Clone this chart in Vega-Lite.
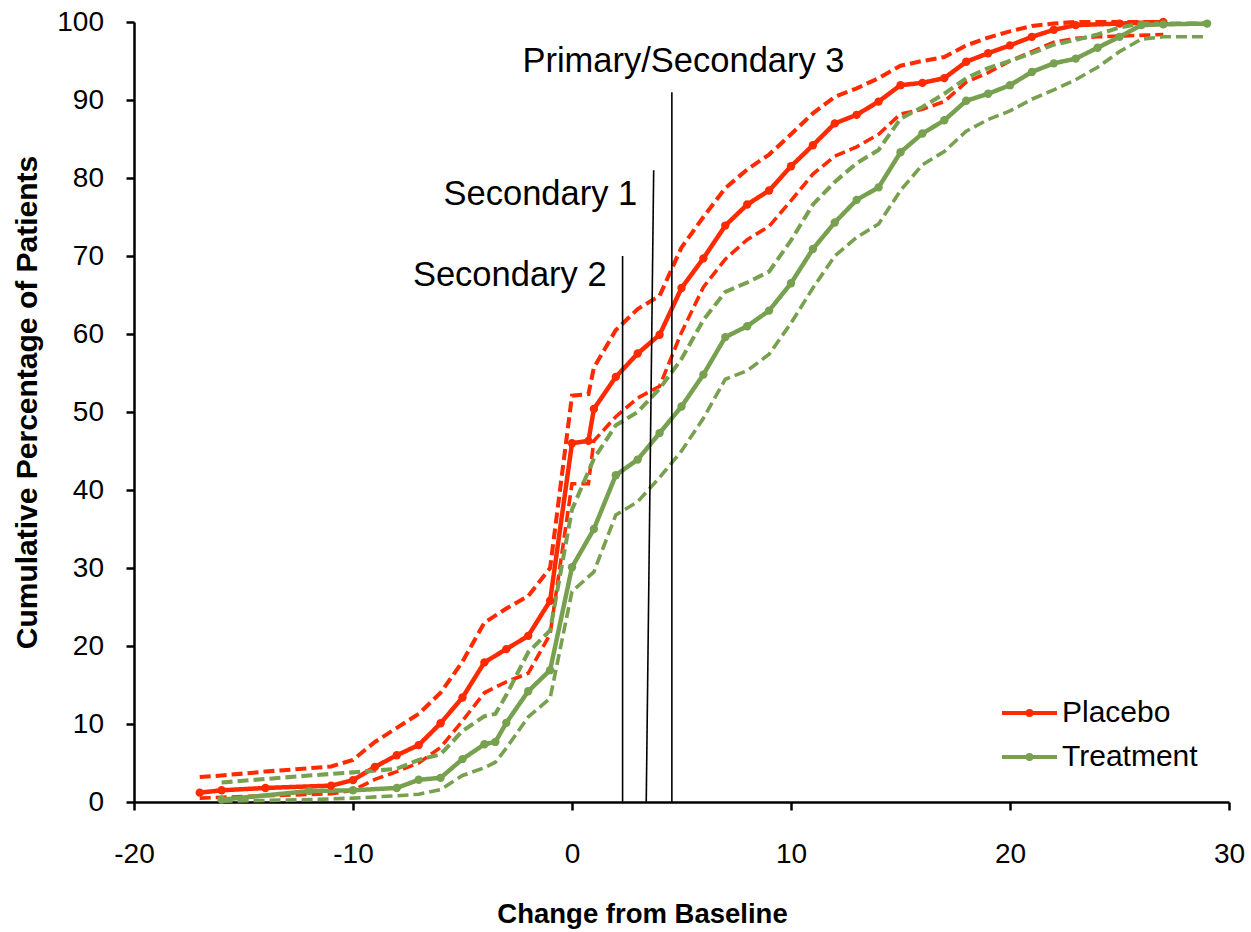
{
  "$schema": "https://vega.github.io/schema/vega-lite/v6.json",
  "width": 1095,
  "height": 780,
  "autosize": {"type": "none"},
  "padding": {"left": 134, "top": 22, "right": 22, "bottom": 130},
  "background": "white",
  "config": {
    "view": {"stroke": null},
    "font": "Liberation Sans",
    "axis": {
      "grid": false,
      "domainColor": "black",
      "domainWidth": 2.5,
      "tickColor": "black",
      "tickWidth": 2.5,
      "tickSize": 8,
      "labelColor": "black",
      "labelFontSize": 28,
      "labelFont": "Liberation Sans",
      "titleFont": "Liberation Sans",
      "titleColor": "black",
      "titleFontWeight": "bold",
      "labelFlush": false,
      "labelOverlap": false
    }
  },
  "datasets": {
    "curves": [
      {"group":"Placebo","band":"estimate","change":-17,"pct":1.2},
      {"group":"Placebo","band":"estimate","change":-16,"pct":1.5},
      {"group":"Placebo","band":"estimate","change":-14,"pct":1.8},
      {"group":"Placebo","band":"estimate","change":-11,"pct":2.1},
      {"group":"Placebo","band":"estimate","change":-10,"pct":2.8},
      {"group":"Placebo","band":"estimate","change":-9,"pct":4.5},
      {"group":"Placebo","band":"estimate","change":-8,"pct":6.0},
      {"group":"Placebo","band":"estimate","change":-7,"pct":7.3},
      {"group":"Placebo","band":"estimate","change":-6,"pct":10.1},
      {"group":"Placebo","band":"estimate","change":-5,"pct":13.4},
      {"group":"Placebo","band":"estimate","change":-4,"pct":17.9},
      {"group":"Placebo","band":"estimate","change":-3,"pct":19.6},
      {"group":"Placebo","band":"estimate","change":-2,"pct":21.3},
      {"group":"Placebo","band":"estimate","change":-1,"pct":25.8},
      {"group":"Placebo","band":"estimate","change":0,"pct":46.0},
      {"group":"Placebo","band":"estimate","change":0.75,"pct":46.3},
      {"group":"Placebo","band":"estimate","change":1,"pct":50.4},
      {"group":"Placebo","band":"estimate","change":2,"pct":54.5},
      {"group":"Placebo","band":"estimate","change":3,"pct":57.5},
      {"group":"Placebo","band":"estimate","change":4,"pct":59.9},
      {"group":"Placebo","band":"estimate","change":5,"pct":65.9},
      {"group":"Placebo","band":"estimate","change":6,"pct":69.7},
      {"group":"Placebo","band":"estimate","change":7,"pct":73.9},
      {"group":"Placebo","band":"estimate","change":8,"pct":76.6},
      {"group":"Placebo","band":"estimate","change":9,"pct":78.4},
      {"group":"Placebo","band":"estimate","change":10,"pct":81.5},
      {"group":"Placebo","band":"estimate","change":11,"pct":84.2},
      {"group":"Placebo","band":"estimate","change":12,"pct":87.0},
      {"group":"Placebo","band":"estimate","change":13,"pct":88.1},
      {"group":"Placebo","band":"estimate","change":14,"pct":89.8},
      {"group":"Placebo","band":"estimate","change":15,"pct":91.9},
      {"group":"Placebo","band":"estimate","change":16,"pct":92.2},
      {"group":"Placebo","band":"estimate","change":17,"pct":92.8},
      {"group":"Placebo","band":"estimate","change":18,"pct":94.9},
      {"group":"Placebo","band":"estimate","change":19,"pct":96.0},
      {"group":"Placebo","band":"estimate","change":20,"pct":97.0},
      {"group":"Placebo","band":"estimate","change":21,"pct":98.1},
      {"group":"Placebo","band":"estimate","change":22,"pct":99.0},
      {"group":"Placebo","band":"estimate","change":23,"pct":99.6},
      {"group":"Placebo","band":"estimate","change":25,"pct":99.8},
      {"group":"Placebo","band":"estimate","change":27,"pct":100},

      {"group":"Placebo","band":"upper","change":-17,"pct":3.2},
      {"group":"Placebo","band":"upper","change":-16,"pct":3.4},
      {"group":"Placebo","band":"upper","change":-14,"pct":3.9},
      {"group":"Placebo","band":"upper","change":-11,"pct":4.55},
      {"group":"Placebo","band":"upper","change":-10,"pct":5.4},
      {"group":"Placebo","band":"upper","change":-9,"pct":7.7},
      {"group":"Placebo","band":"upper","change":-8,"pct":9.5},
      {"group":"Placebo","band":"upper","change":-7,"pct":11.3},
      {"group":"Placebo","band":"upper","change":-6,"pct":14.0},
      {"group":"Placebo","band":"upper","change":-5,"pct":18.0},
      {"group":"Placebo","band":"upper","change":-4,"pct":23.0},
      {"group":"Placebo","band":"upper","change":-3,"pct":24.8},
      {"group":"Placebo","band":"upper","change":-2,"pct":26.4},
      {"group":"Placebo","band":"upper","change":-1,"pct":30.0},
      {"group":"Placebo","band":"upper","change":0,"pct":52.1},
      {"group":"Placebo","band":"upper","change":0.75,"pct":52.3},
      {"group":"Placebo","band":"upper","change":1,"pct":55.7},
      {"group":"Placebo","band":"upper","change":2,"pct":60.5},
      {"group":"Placebo","band":"upper","change":3,"pct":63.2},
      {"group":"Placebo","band":"upper","change":4,"pct":64.9},
      {"group":"Placebo","band":"upper","change":5,"pct":71.1},
      {"group":"Placebo","band":"upper","change":6,"pct":75.0},
      {"group":"Placebo","band":"upper","change":7,"pct":78.7},
      {"group":"Placebo","band":"upper","change":8,"pct":81.1},
      {"group":"Placebo","band":"upper","change":9,"pct":83.0},
      {"group":"Placebo","band":"upper","change":10,"pct":85.6},
      {"group":"Placebo","band":"upper","change":11,"pct":88.3},
      {"group":"Placebo","band":"upper","change":12,"pct":90.4},
      {"group":"Placebo","band":"upper","change":13,"pct":91.5},
      {"group":"Placebo","band":"upper","change":14,"pct":92.8},
      {"group":"Placebo","band":"upper","change":15,"pct":94.4},
      {"group":"Placebo","band":"upper","change":16,"pct":95.0},
      {"group":"Placebo","band":"upper","change":17,"pct":95.5},
      {"group":"Placebo","band":"upper","change":18,"pct":97.0},
      {"group":"Placebo","band":"upper","change":19,"pct":98.0},
      {"group":"Placebo","band":"upper","change":20,"pct":98.8},
      {"group":"Placebo","band":"upper","change":21,"pct":99.5},
      {"group":"Placebo","band":"upper","change":22,"pct":99.8},
      {"group":"Placebo","band":"upper","change":23,"pct":100},
      {"group":"Placebo","band":"upper","change":27,"pct":100},

      {"group":"Placebo","band":"lower","change":-17,"pct":0.5},
      {"group":"Placebo","band":"lower","change":-16,"pct":0.6},
      {"group":"Placebo","band":"lower","change":-14,"pct":0.8},
      {"group":"Placebo","band":"lower","change":-11,"pct":1.05},
      {"group":"Placebo","band":"lower","change":-10,"pct":1.5},
      {"group":"Placebo","band":"lower","change":-9,"pct":2.9},
      {"group":"Placebo","band":"lower","change":-8,"pct":3.9},
      {"group":"Placebo","band":"lower","change":-7,"pct":5.0},
      {"group":"Placebo","band":"lower","change":-6,"pct":7.0},
      {"group":"Placebo","band":"lower","change":-5,"pct":10.4},
      {"group":"Placebo","band":"lower","change":-4,"pct":14.0},
      {"group":"Placebo","band":"lower","change":-3,"pct":15.4},
      {"group":"Placebo","band":"lower","change":-2,"pct":16.5},
      {"group":"Placebo","band":"lower","change":-1,"pct":21.5},
      {"group":"Placebo","band":"lower","change":0,"pct":40.8},
      {"group":"Placebo","band":"lower","change":0.75,"pct":40.8},
      {"group":"Placebo","band":"lower","change":1,"pct":46.3},
      {"group":"Placebo","band":"lower","change":2,"pct":49.4},
      {"group":"Placebo","band":"lower","change":3,"pct":51.8},
      {"group":"Placebo","band":"lower","change":4,"pct":53.3},
      {"group":"Placebo","band":"lower","change":5,"pct":60.2},
      {"group":"Placebo","band":"lower","change":6,"pct":66.0},
      {"group":"Placebo","band":"lower","change":7,"pct":69.6},
      {"group":"Placebo","band":"lower","change":8,"pct":72.1},
      {"group":"Placebo","band":"lower","change":9,"pct":73.8},
      {"group":"Placebo","band":"lower","change":10,"pct":77.1},
      {"group":"Placebo","band":"lower","change":11,"pct":80.5},
      {"group":"Placebo","band":"lower","change":12,"pct":82.8},
      {"group":"Placebo","band":"lower","change":13,"pct":84.0},
      {"group":"Placebo","band":"lower","change":14,"pct":85.6},
      {"group":"Placebo","band":"lower","change":15,"pct":88.2},
      {"group":"Placebo","band":"lower","change":16,"pct":88.8},
      {"group":"Placebo","band":"lower","change":17,"pct":89.8},
      {"group":"Placebo","band":"lower","change":18,"pct":92.3},
      {"group":"Placebo","band":"lower","change":19,"pct":93.5},
      {"group":"Placebo","band":"lower","change":20,"pct":95.0},
      {"group":"Placebo","band":"lower","change":21,"pct":96.2},
      {"group":"Placebo","band":"lower","change":22,"pct":97.4},
      {"group":"Placebo","band":"lower","change":23,"pct":97.9},
      {"group":"Placebo","band":"lower","change":24,"pct":98.1},
      {"group":"Placebo","band":"lower","change":27,"pct":98.4},

      {"group":"Treatment","band":"estimate","change":-16,"pct":0.3},
      {"group":"Treatment","band":"estimate","change":-12,"pct":1.4},
      {"group":"Treatment","band":"estimate","change":-10,"pct":1.5},
      {"group":"Treatment","band":"estimate","change":-8,"pct":1.8},
      {"group":"Treatment","band":"estimate","change":-7,"pct":2.85},
      {"group":"Treatment","band":"estimate","change":-6,"pct":3.1},
      {"group":"Treatment","band":"estimate","change":-5,"pct":5.5},
      {"group":"Treatment","band":"estimate","change":-4,"pct":7.4},
      {"group":"Treatment","band":"estimate","change":-3.5,"pct":7.7},
      {"group":"Treatment","band":"estimate","change":-3,"pct":10.15},
      {"group":"Treatment","band":"estimate","change":-2,"pct":14.2},
      {"group":"Treatment","band":"estimate","change":-1,"pct":16.9},
      {"group":"Treatment","band":"estimate","change":0,"pct":30.1},
      {"group":"Treatment","band":"estimate","change":1,"pct":35.0},
      {"group":"Treatment","band":"estimate","change":2,"pct":41.9},
      {"group":"Treatment","band":"estimate","change":3,"pct":43.9},
      {"group":"Treatment","band":"estimate","change":4,"pct":47.3},
      {"group":"Treatment","band":"estimate","change":5,"pct":50.7},
      {"group":"Treatment","band":"estimate","change":6,"pct":54.8},
      {"group":"Treatment","band":"estimate","change":7,"pct":59.6},
      {"group":"Treatment","band":"estimate","change":8,"pct":61.0},
      {"group":"Treatment","band":"estimate","change":9,"pct":63.0},
      {"group":"Treatment","band":"estimate","change":10,"pct":66.5},
      {"group":"Treatment","band":"estimate","change":11,"pct":70.9},
      {"group":"Treatment","band":"estimate","change":12,"pct":74.3},
      {"group":"Treatment","band":"estimate","change":13,"pct":77.2},
      {"group":"Treatment","band":"estimate","change":14,"pct":78.8},
      {"group":"Treatment","band":"estimate","change":15,"pct":83.3},
      {"group":"Treatment","band":"estimate","change":16,"pct":85.7},
      {"group":"Treatment","band":"estimate","change":17,"pct":87.4},
      {"group":"Treatment","band":"estimate","change":18,"pct":89.9},
      {"group":"Treatment","band":"estimate","change":19,"pct":90.8},
      {"group":"Treatment","band":"estimate","change":20,"pct":91.9},
      {"group":"Treatment","band":"estimate","change":21,"pct":93.6},
      {"group":"Treatment","band":"estimate","change":22,"pct":94.7},
      {"group":"Treatment","band":"estimate","change":23,"pct":95.3},
      {"group":"Treatment","band":"estimate","change":24,"pct":96.7},
      {"group":"Treatment","band":"estimate","change":25,"pct":98.1},
      {"group":"Treatment","band":"estimate","change":26,"pct":99.6},
      {"group":"Treatment","band":"estimate","change":27,"pct":99.7},
      {"group":"Treatment","band":"estimate","change":29,"pct":99.8},

      {"group":"Treatment","band":"upper","change":-16,"pct":2.5},
      {"group":"Treatment","band":"upper","change":-12,"pct":3.4},
      {"group":"Treatment","band":"upper","change":-10,"pct":3.8},
      {"group":"Treatment","band":"upper","change":-8,"pct":4.25},
      {"group":"Treatment","band":"upper","change":-7,"pct":5.4},
      {"group":"Treatment","band":"upper","change":-6,"pct":6.1},
      {"group":"Treatment","band":"upper","change":-5,"pct":9.1},
      {"group":"Treatment","band":"upper","change":-4,"pct":11.0},
      {"group":"Treatment","band":"upper","change":-3.5,"pct":11.3},
      {"group":"Treatment","band":"upper","change":-3,"pct":13.7},
      {"group":"Treatment","band":"upper","change":-2,"pct":19.2},
      {"group":"Treatment","band":"upper","change":-1,"pct":22.0},
      {"group":"Treatment","band":"upper","change":0,"pct":37.5},
      {"group":"Treatment","band":"upper","change":1,"pct":44.0},
      {"group":"Treatment","band":"upper","change":2,"pct":48.3},
      {"group":"Treatment","band":"upper","change":3,"pct":50.0},
      {"group":"Treatment","band":"upper","change":4,"pct":53.0},
      {"group":"Treatment","band":"upper","change":5,"pct":56.8},
      {"group":"Treatment","band":"upper","change":6,"pct":61.8},
      {"group":"Treatment","band":"upper","change":7,"pct":65.4},
      {"group":"Treatment","band":"upper","change":8,"pct":66.6},
      {"group":"Treatment","band":"upper","change":9,"pct":68.0},
      {"group":"Treatment","band":"upper","change":10,"pct":72.0},
      {"group":"Treatment","band":"upper","change":11,"pct":76.6},
      {"group":"Treatment","band":"upper","change":12,"pct":79.5},
      {"group":"Treatment","band":"upper","change":13,"pct":81.9},
      {"group":"Treatment","band":"upper","change":14,"pct":83.6},
      {"group":"Treatment","band":"upper","change":15,"pct":87.6},
      {"group":"Treatment","band":"upper","change":16,"pct":89.1},
      {"group":"Treatment","band":"upper","change":17,"pct":90.8},
      {"group":"Treatment","band":"upper","change":18,"pct":92.8},
      {"group":"Treatment","band":"upper","change":19,"pct":94.1},
      {"group":"Treatment","band":"upper","change":20,"pct":95.0},
      {"group":"Treatment","band":"upper","change":21,"pct":96.0},
      {"group":"Treatment","band":"upper","change":22,"pct":97.1},
      {"group":"Treatment","band":"upper","change":23,"pct":97.7},
      {"group":"Treatment","band":"upper","change":24,"pct":98.4},
      {"group":"Treatment","band":"upper","change":25,"pct":99.3},
      {"group":"Treatment","band":"upper","change":26,"pct":99.8},
      {"group":"Treatment","band":"upper","change":29,"pct":99.8},

      {"group":"Treatment","band":"lower","change":-16,"pct":0.1},
      {"group":"Treatment","band":"lower","change":-12,"pct":0.3},
      {"group":"Treatment","band":"lower","change":-10,"pct":0.5},
      {"group":"Treatment","band":"lower","change":-8,"pct":0.8},
      {"group":"Treatment","band":"lower","change":-7,"pct":1.0},
      {"group":"Treatment","band":"lower","change":-6,"pct":1.6},
      {"group":"Treatment","band":"lower","change":-5,"pct":3.4},
      {"group":"Treatment","band":"lower","change":-4,"pct":4.4},
      {"group":"Treatment","band":"lower","change":-3.5,"pct":5.1},
      {"group":"Treatment","band":"lower","change":-3,"pct":6.9},
      {"group":"Treatment","band":"lower","change":-2,"pct":10.9},
      {"group":"Treatment","band":"lower","change":-1,"pct":13.3},
      {"group":"Treatment","band":"lower","change":0,"pct":27.0},
      {"group":"Treatment","band":"lower","change":1,"pct":29.5},
      {"group":"Treatment","band":"lower","change":2,"pct":36.8},
      {"group":"Treatment","band":"lower","change":3,"pct":38.5},
      {"group":"Treatment","band":"lower","change":4,"pct":41.6},
      {"group":"Treatment","band":"lower","change":5,"pct":45.0},
      {"group":"Treatment","band":"lower","change":6,"pct":49.2},
      {"group":"Treatment","band":"lower","change":7,"pct":54.2},
      {"group":"Treatment","band":"lower","change":8,"pct":55.3},
      {"group":"Treatment","band":"lower","change":9,"pct":57.4},
      {"group":"Treatment","band":"lower","change":10,"pct":61.4},
      {"group":"Treatment","band":"lower","change":11,"pct":65.9},
      {"group":"Treatment","band":"lower","change":12,"pct":70.0},
      {"group":"Treatment","band":"lower","change":13,"pct":72.4},
      {"group":"Treatment","band":"lower","change":14,"pct":74.1},
      {"group":"Treatment","band":"lower","change":15,"pct":78.4},
      {"group":"Treatment","band":"lower","change":16,"pct":81.7},
      {"group":"Treatment","band":"lower","change":17,"pct":83.4},
      {"group":"Treatment","band":"lower","change":18,"pct":86.0},
      {"group":"Treatment","band":"lower","change":19,"pct":87.5},
      {"group":"Treatment","band":"lower","change":20,"pct":88.6},
      {"group":"Treatment","band":"lower","change":21,"pct":90.1},
      {"group":"Treatment","band":"lower","change":22,"pct":91.3},
      {"group":"Treatment","band":"lower","change":23,"pct":92.6},
      {"group":"Treatment","band":"lower","change":24,"pct":94.2},
      {"group":"Treatment","band":"lower","change":25,"pct":96.2},
      {"group":"Treatment","band":"lower","change":26,"pct":97.8},
      {"group":"Treatment","band":"lower","change":27,"pct":98.1},
      {"group":"Treatment","band":"lower","change":29,"pct":98.1}
    ],
    "cutoffs": [
      {"cutoff":"Secondary 2","change":2.31,"pct":0},
      {"cutoff":"Secondary 2","change":2.31,"pct":70},
      {"cutoff":"Secondary 1","change":3.39,"pct":0},
      {"cutoff":"Secondary 1","change":3.73,"pct":81},
      {"cutoff":"Primary/Secondary 3","change":4.56,"pct":0},
      {"cutoff":"Primary/Secondary 3","change":4.56,"pct":91}
    ],
    "labels": [
      {"label":"Primary/Secondary 3","change":5.09,"pct":93.6,"pos":"center"},
      {"label":"Secondary 1","change":2.98,"pct":76.5,"pos":"right"},
      {"label":"Secondary 2","change":1.58,"pct":66.2,"pos":"right"}
    ]
  },
  "layer": [
    {
      "data": {"name": "curves"},
      "mark": {"type": "line", "interpolate": "linear", "strokeCap": "butt"},
      "encoding": {
        "x": {
          "field": "change", "type": "quantitative",
          "scale": {"domain": [-20, 30], "nice": false, "zero": false},
          "axis": {
            "values": [-20, -10, 0, 10, 20, 30],
            "labelExpr": "replace(datum.label, '\u2212', '-')",
            "title": "Change from Baseline",
            "titleFontSize": 27.5,
            "titleX": 508, "titleY": 120,
            "titleAlign": "center", "titleBaseline": "alphabetic",
            "labelBaseline": "alphabetic", "labelPadding": 52
          }
        },
        "y": {
          "field": "pct", "type": "quantitative",
          "scale": {"domain": [0, 100], "nice": false},
          "axis": {
            "values": [0, 10, 20, 30, 40, 50, 60, 70, 80, 90, 100],
            "title": "Cumulative Percentage of Patients",
            "titleFontSize": 30,
            "titleAngle": 270,
            "titleX": -98, "titleY": 380,
            "titleAlign": "center", "titleBaseline": "alphabetic",
            "labelPadding": 22.5
          }
        },
        "color": {
          "field": "group", "type": "nominal",
          "scale": {"domain": ["Placebo", "Treatment"], "range": ["#FF2A00", "#77A04F"]},
          "legend": {
            "title": null,
            "orient": "none",
            "legendX": 866,
            "legendY": 676,
            "padding": 0,
            "symbolType": "M-1,0L1,0M0.07,0A0.07,0.07,0,1,1,-0.07,0A0.07,0.07,0,1,1,0.07,0Z",
            "symbolSize": 3025,
            "symbolStrokeWidth": 4,
            "clipHeight": 30,
            "rowPadding": 14,
            "labelOffset": 3,
            "labelFontSize": 30,
            "labelFont": "Liberation Sans",
            "labelColor": "black",
            "encode": {
              "symbols": {
                "update": {
                  "fill": {"scale": "color", "field": "value"},
                  "stroke": {"scale": "color", "field": "value"},
                  "opacity": {"value": 1}
                }
              }
            }
          }
        },
        "detail": {"field": "band", "type": "nominal"},
        "strokeDash": {
          "field": "band", "type": "nominal",
          "scale": {"domain": ["estimate", "upper", "lower"], "range": [[1, 0], [11, 5], [11, 5]]},
          "legend": null
        },
        "strokeWidth": {
          "field": "band", "type": "nominal",
          "scale": {"domain": ["estimate", "upper", "lower"], "range": [4.5, 3.6, 3.6]},
          "legend": null
        }
      }
    },
    {
      "data": {"name": "curves"},
      "transform": [{"filter": "datum.band === 'estimate'"}],
      "mark": {"type": "point", "filled": true, "size": 70, "opacity": 1, "shape": "circle"},
      "encoding": {
        "x": {"field": "change", "type": "quantitative"},
        "y": {"field": "pct", "type": "quantitative"},
        "fill": {
          "field": "group", "type": "nominal",
          "scale": {"domain": ["Placebo", "Treatment"], "range": ["#FF2A00", "#77A04F"]},
          "legend": null
        }
      }
    },
    {
      "data": {"name": "cutoffs"},
      "mark": {"type": "line", "color": "black", "strokeWidth": 1.6},
      "encoding": {
        "x": {"field": "change", "type": "quantitative"},
        "y": {"field": "pct", "type": "quantitative"},
        "detail": {"field": "cutoff", "type": "nominal"}
      }
    },
    {
      "data": {"name": "labels"},
      "transform": [{"filter": "datum.pos === 'center'"}],
      "mark": {"type": "text", "align": "center", "baseline": "alphabetic", "fontSize": 34.5, "font": "Liberation Sans", "color": "black"},
      "encoding": {
        "x": {"field": "change", "type": "quantitative"},
        "y": {"field": "pct", "type": "quantitative"},
        "text": {"field": "label", "type": "nominal"}
      }
    },
    {
      "data": {"name": "labels"},
      "transform": [{"filter": "datum.pos === 'right'"}],
      "mark": {"type": "text", "align": "right", "baseline": "alphabetic", "fontSize": 34.5, "font": "Liberation Sans", "color": "black"},
      "encoding": {
        "x": {"field": "change", "type": "quantitative"},
        "y": {"field": "pct", "type": "quantitative"},
        "text": {"field": "label", "type": "nominal"}
      }
    }
  ]
}
